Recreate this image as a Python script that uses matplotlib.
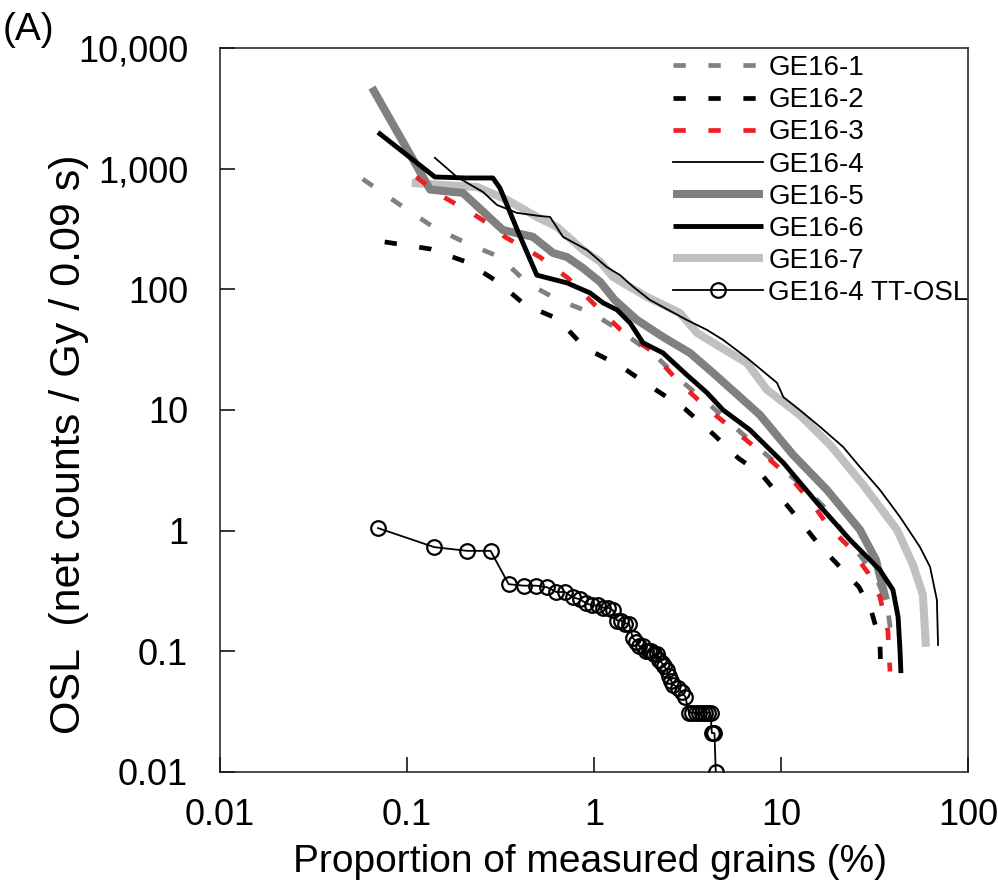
import matplotlib.pyplot as plt
from matplotlib.ticker import NullLocator

plt.rcParams['font.family'] = ['Liberation Sans', 'DejaVu Sans']

# cumulative light sum curves: proportion of measured grains (%) vs OSL
ge1_x = [0.058, 0.092, 0.138, 0.207, 0.314, 0.439, 0.641, 0.975, 1.41, 2.17, 2.88,
         4.17, 6.04, 8.73, 13.4, 17.6, 25.8, 31.8, 36.9, 39.3]
ge1_y = [820, 500, 329, 242, 185, 113, 81.7, 63.7, 44.4, 27.5, 17.8,
         11.0, 6.59, 4.01, 2.26, 1.49, 0.655, 0.430, 0.252, 0.118]

ge2_x = [0.076, 0.133, 0.207, 0.307, 0.428, 0.641, 0.895, 1.38, 2.07, 3.07, 4.33,
         5.89, 7.91, 10.0, 12.6, 16.0, 20.4, 26.1, 30.3, 33.8, 34.3]
ge2_y = [247, 216, 169, 115, 74.3, 56.9, 32.7, 23.2, 15.2, 10.2, 6.34,
         4.01, 2.90, 1.87, 1.21, 0.762, 0.511, 0.342, 0.221, 0.122, 0.058]

ge3_x = [0.112, 0.150, 0.217, 0.278, 0.334, 0.514, 0.726, 1.01, 1.39, 1.99, 2.81,
         4.12, 6.04, 8.51, 11.5, 14.5, 18.1, 23.4, 29.2, 33.8, 37.3, 38.3]
ge3_y = [853, 605, 438, 342, 272, 185, 124, 74.3, 46.1, 31.5, 17.4,
         10.0, 6.22, 4.01, 2.64, 1.73, 1.07, 0.720, 0.447, 0.283, 0.148, 0.068]

ge4_x = [0.141, 0.185, 0.255, 0.303, 0.387, 0.514, 0.582, 0.683, 0.918, 1.17, 1.38,
         1.62, 1.99, 3.14, 4.02, 4.90, 6.58, 9.52, 10.3, 12.6, 16.2, 21.5, 26.4,
         33.8, 43.3, 55.3, 62.7, 68.2, 69.2]
ge4_y = [1230, 853, 641, 500, 430, 405, 398, 272, 212, 153, 131,
         105, 81.7, 55.7, 46.1, 38.1, 27.0, 16.8, 12.8, 10.0, 7.24, 4.94, 3.38,
         2.18, 1.30, 0.734, 0.501, 0.267, 0.113]

ge5_x = [0.065, 0.133, 0.199, 0.326, 0.472, 0.604, 0.718, 0.873, 1.08, 1.29, 1.70,
         2.34, 3.26, 4.33, 6.04, 7.72, 11.6, 17.6, 26.4, 32.2, 36.4]
ge5_y = [4700, 670, 630, 310, 272, 200, 185, 150, 115, 81.7, 55.7,
         40.3, 29.7, 20.3, 12.8, 9.1, 4.25, 2.18, 1.02, 0.573, 0.267]

ge6_x = [0.070, 0.141, 0.204, 0.288, 0.314, 0.393, 0.495, 0.718, 0.953, 1.12, 1.33,
         1.56, 1.83, 2.34, 3.14, 4.02, 4.90, 6.82, 10.3, 15.6, 23.4, 33.8, 39.7,
         42.3, 43.3, 43.8]
ge6_y = [2000, 853, 837, 837, 692, 299, 131, 113, 93.3, 77.1, 67.5,
         52.7, 36.0, 29.7, 19.5, 13.9, 10.0, 6.84, 3.65, 1.70, 0.839, 0.473, 0.323,
         0.193, 0.103, 0.066]

ge7_x = [0.106, 0.150, 0.237, 0.343, 0.495, 0.634, 0.873, 1.08, 1.26, 1.92, 2.88,
         3.56, 4.72, 6.58, 8.41, 12.6, 18.3, 27.5, 41.7, 50.8, 57.4, 59.6]
ge7_y = [762, 733, 705, 551, 398, 329, 212, 169, 127, 86.5, 63.7,
         43.5, 33.3, 24.5, 14.7, 9.1, 5.14, 2.40, 1.02, 0.521, 0.294, 0.109]

# GE16-4 TT-OSL, one point per grain
tt_x = [0.07, 0.14, 0.21, 0.28, 0.35, 0.42, 0.49, 0.56, 0.63, 0.70, 0.77, 0.84,
        0.91, 0.98, 1.05, 1.12, 1.19, 1.26, 1.33, 1.40, 1.47, 1.54, 1.61, 1.68,
        1.75, 1.82, 1.89, 1.96, 2.03, 2.10, 2.17, 2.24, 2.31, 2.38, 2.45, 2.52,
        2.59, 2.66, 2.80, 2.94, 3.08, 3.22, 3.36, 3.50, 3.64, 3.78, 3.92, 4.06,
        4.20, 4.27, 4.34, 4.41, 4.48]
tt_y = [1.05, 0.73, 0.68, 0.68, 0.36, 0.35, 0.35, 0.34, 0.31, 0.31, 0.28, 0.27,
        0.25, 0.24, 0.24, 0.23, 0.23, 0.22, 0.18, 0.18, 0.17, 0.17, 0.13, 0.12,
        0.11, 0.11, 0.10, 0.10, 0.10, 0.095, 0.095, 0.085, 0.08, 0.075, 0.07, 0.062,
        0.057, 0.053, 0.05, 0.046, 0.042, 0.031, 0.031, 0.031, 0.031, 0.031, 0.031, 0.031,
        0.031, 0.021, 0.021, 0.021, 0.010]

xticks = [0.01, 0.1, 1, 10, 100]
xtick_labels = ['0.01', '0.1', '1', '10', '100']
yticks = [0.01, 0.1, 1, 10, 100, 1000, 10000]
ytick_labels = ['0.01', '0.1', '1', '10', '100', '1,000', '10,000']

fig = plt.figure(figsize=(9.98, 8.85), dpi=100)
ax = fig.add_axes([0.2204, 0.1277, 0.7495, 0.8181])

dash = (2.6, 4.8)
l7, = ax.plot(ge7_x, ge7_y, color='#c0c0c0', lw=5.8, solid_capstyle='butt', label='GE16-7')
l5, = ax.plot(ge5_x, ge5_y, color='#808080', lw=5.8, solid_capstyle='butt', label='GE16-5')
l1, = ax.plot(ge1_x, ge1_y, color='#808080', lw=3.4, dashes=dash, label='GE16-1')
l2, = ax.plot(ge2_x, ge2_y, color='black', lw=3.4, dashes=dash, label='GE16-2')
l3, = ax.plot(ge3_x, ge3_y, color='#ee2024', lw=3.4, dashes=dash, label='GE16-3')
l4, = ax.plot(ge4_x, ge4_y, color='black', lw=1.3, label='GE16-4')
l6, = ax.plot(ge6_x, ge6_y, color='black', lw=3.5, solid_capstyle='butt', label='GE16-6')
ltt, = ax.plot(tt_x, tt_y, color='black', lw=1.3, marker='o', ms=10.5, mfc='none',
               mec='black', mew=1.6, label='GE16-4 TT-OSL')

ax.set_xscale('log')
ax.set_yscale('log')
ax.set_xlim(0.01, 100)
ax.set_ylim(0.01, 10000)
ax.set_xticks(xticks)
ax.set_xticklabels(xtick_labels)
ax.set_yticks(yticks)
ax.set_yticklabels(ytick_labels)
ax.xaxis.set_minor_locator(NullLocator())
ax.yaxis.set_minor_locator(NullLocator())
ax.tick_params(direction='in', length=11, width=1.1, labelsize=26)
ax.tick_params(axis='x', pad=19)
ax.tick_params(axis='y', pad=23)
for s in ax.spines.values():
    s.set_linewidth(1.1)
    s.set_color('#1a1a1a')

ax.set_xlabel('Proportion of measured grains (%)', fontsize=28)
ax.set_ylabel('OSL  (net counts / Gy / 0.09 s)', fontsize=31)
ax.xaxis.set_label_coords(0.4947, -0.099)
ax.yaxis.set_label_coords(-0.175, 0.452)

ax.legend(handles=[l1, l2, l3, l4, l5, l6, l7, ltt], loc='upper left',
          bbox_to_anchor=(0.606, 0.99), frameon=False, fontsize=20,
          handlelength=3.24, handletextpad=0.18, labelspacing=0.22,
          borderpad=0, borderaxespad=0)

fig.text(0.003, 0.987, '(A)', fontsize=28, va='top', ha='left')

fig.savefig('out.png', dpi=100)
